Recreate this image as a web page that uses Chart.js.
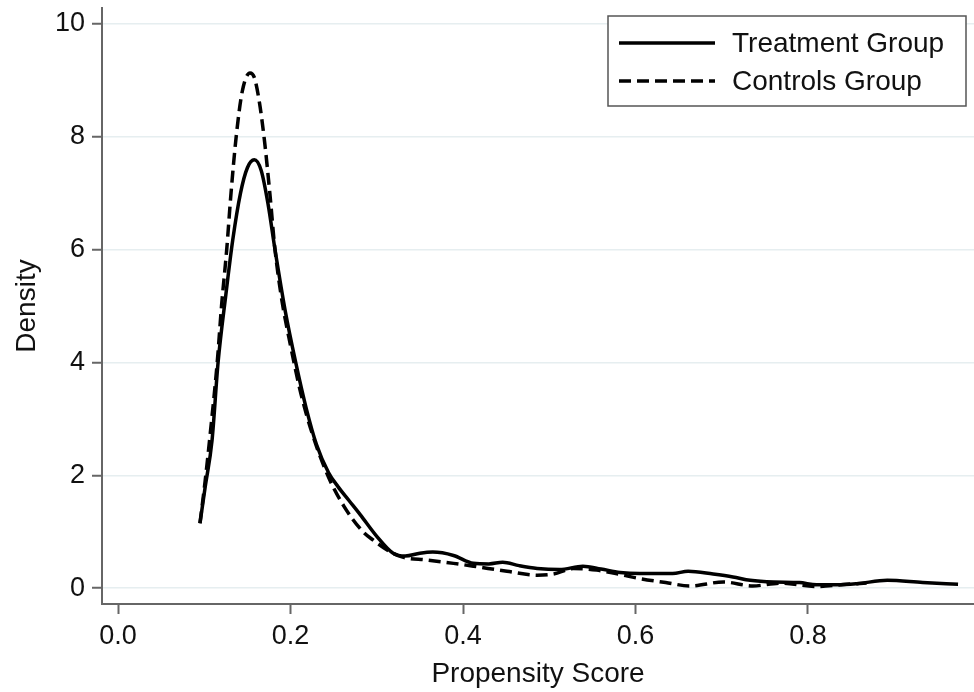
<!DOCTYPE html>
<html>
<head>
<meta charset="utf-8">
<script src="https://cdn.jsdelivr.net/npm/chart.js@4.4.0/dist/chart.umd.min.js"></script>
<style>
  html, body { margin: 0; padding: 0; background: #ffffff; }
  #wrap { width: 974px; height: 692px; position: relative; }
</style>
</head>
<body>
<div id="wrap"><canvas id="c" width="974" height="692"></canvas></div>
<script>
// ---- data ----
const seriesNames = ["Treatment Group", "Controls Group"];

const treatX = [0.095,0.101,0.109,0.116,0.125,0.133,0.142,0.150,0.158,0.166,0.174,0.182,0.194,0.206,0.218,0.230,0.244,0.255,0.268,0.281,0.300,0.319,0.333,0.350,0.365,0.389,0.412,0.430,0.446,0.465,0.486,0.512,0.539,0.560,0.582,0.605,0.643,0.661,0.690,0.713,0.733,0.760,0.790,0.810,0.835,0.857,0.892,0.933,0.974];
const treatY = [1.15,1.79,2.62,4.00,5.20,6.17,7.00,7.45,7.59,7.40,6.80,6.00,4.90,4.00,3.20,2.55,2.05,1.80,1.55,1.30,0.92,0.62,0.57,0.62,0.64,0.58,0.44,0.43,0.46,0.40,0.35,0.33,0.39,0.34,0.28,0.26,0.26,0.30,0.25,0.20,0.14,0.11,0.10,0.06,0.06,0.08,0.14,0.10,0.07];

const ctrlX = [0.095,0.101,0.108,0.115,0.120,0.126,0.131,0.137,0.144,0.153,0.158,0.164,0.170,0.176,0.182,0.190,0.200,0.212,0.226,0.244,0.262,0.284,0.296,0.315,0.330,0.358,0.389,0.412,0.451,0.486,0.505,0.528,0.555,0.580,0.605,0.635,0.663,0.702,0.736,0.768,0.810,0.845,0.868];
const ctrlY = [1.15,1.90,2.90,4.00,5.00,6.00,7.00,8.00,8.80,9.13,9.05,8.60,7.90,7.00,6.00,5.10,4.30,3.45,2.70,1.97,1.45,1.00,0.85,0.65,0.55,0.50,0.44,0.39,0.30,0.23,0.25,0.35,0.32,0.25,0.17,0.10,0.04,0.11,0.04,0.09,0.03,0.07,0.09];

const xTicks = [0.0, 0.2, 0.4, 0.6, 0.8];
const yTicks = [0, 2, 4, 6, 8, 10];
const xTitle = "Propensity Score";
const yTitle = "Density";

// ---- chart ----
const FONT = "'Liberation Sans', Arial, Helvetica, sans-serif";
const toPts = (xs, ys) => xs.map((x, i) => ({ x: x, y: ys[i] }));

const legendPlugin = {
  id: 'boxLegend',
  afterDraw(chart) {
    const ctx = chart.ctx;
    const area = chart.chartArea;
    const boxR = area.right - 8, boxT = area.top + 8;
    const boxW = 358, boxH = 90;
    const boxL = boxR - boxW;
    ctx.save();
    ctx.fillStyle = '#ffffff';
    ctx.fillRect(boxL, boxT, boxW, boxH);
    ctx.strokeStyle = '#555555';
    ctx.lineWidth = 1.5;
    ctx.strokeRect(boxL, boxT, boxW, boxH);
    chart.data.datasets.forEach((ds, i) => {
      const cy = boxT + 27 + i * 38;
      ctx.beginPath();
      ctx.setLineDash(ds.borderDash || []);
      ctx.lineWidth = ds.borderWidth;
      ctx.strokeStyle = ds.borderColor;
      ctx.moveTo(boxL + 11, cy);
      ctx.lineTo(boxL + 107, cy);
      ctx.stroke();
      ctx.setLineDash([]);
      ctx.fillStyle = '#111111';
      ctx.font = "28px " + FONT;
      ctx.textBaseline = 'middle';
      ctx.textAlign = 'left';
      ctx.fillText(ds.label, boxL + 124, cy + 1);
    });
    ctx.restore();
  }
};

new Chart(document.getElementById('c'), {
  type: 'scatter',
  data: {
    datasets: [
      {
        label: seriesNames[0],
        data: toPts(treatX, treatY),
        showLine: true,
        borderColor: '#000000',
        borderWidth: 3.5,
        pointRadius: 0,
        cubicInterpolationMode: 'monotone',
        fill: false
      },
      {
        label: seriesNames[1],
        data: toPts(ctrlX, ctrlY),
        showLine: true,
        borderColor: '#000000',
        borderWidth: 3.5,
        borderDash: [12, 6],
        pointRadius: 0,
        cubicInterpolationMode: 'monotone',
        fill: false
      }
    ]
  },
  options: {
    responsive: false,
    animation: false,
    devicePixelRatio: 1,
    layout: { padding: { top: 8, right: 0, left: 0, bottom: 0 } },
    plugins: { legend: { display: false }, tooltip: { enabled: false } },
    scales: {
      x: {
        type: 'linear',
        min: -0.0186,
        max: 0.9925,
        afterBuildTicks: (s) => { s.ticks = xTicks.map(v => ({ value: v })); },
        afterFit: (s) => { s.height = 88; s.paddingLeft = 0; s.paddingRight = 0; },
        ticks: {
          callback: (v) => Number(v).toFixed(1),
          color: '#111111',
          font: { family: FONT, size: 27 },
          padding: 6,
          maxRotation: 0,
          autoSkip: false
        },
        grid: {
          drawOnChartArea: false,
          drawTicks: true,
          tickLength: 10,
          tickColor: '#666666',
          tickWidth: 2
        },
        border: { display: true, color: '#666666', width: 2 },
        title: {
          display: true,
          text: xTitle,
          color: '#111111',
          font: { family: FONT, size: 28 },
          padding: { top: 0, bottom: 1 }
        }
      },
      y: {
        type: 'linear',
        min: -0.28,
        max: 10.28,
        afterBuildTicks: (s) => { s.ticks = yTicks.map(v => ({ value: v })); },
        afterFit: (s) => { s.width = 102; s.paddingTop = 0; s.paddingBottom = 0; },
        ticks: {
          callback: (v) => String(v),
          color: '#111111',
          font: { family: FONT, size: 27 },
          padding: 7,
          autoSkip: false
        },
        grid: {
          color: '#e6eef0',
          lineWidth: 1.5,
          drawTicks: true,
          tickLength: 10,
          tickColor: '#666666',
          tickWidth: 2
        },
        border: { display: true, color: '#666666', width: 2 },
        title: {
          display: true,
          text: yTitle,
          color: '#111111',
          font: { family: FONT, size: 28 },
          padding: { top: 10, bottom: 0 }
        }
      }
    }
  },
  plugins: [legendPlugin]
});
</script>
</body>
</html>
